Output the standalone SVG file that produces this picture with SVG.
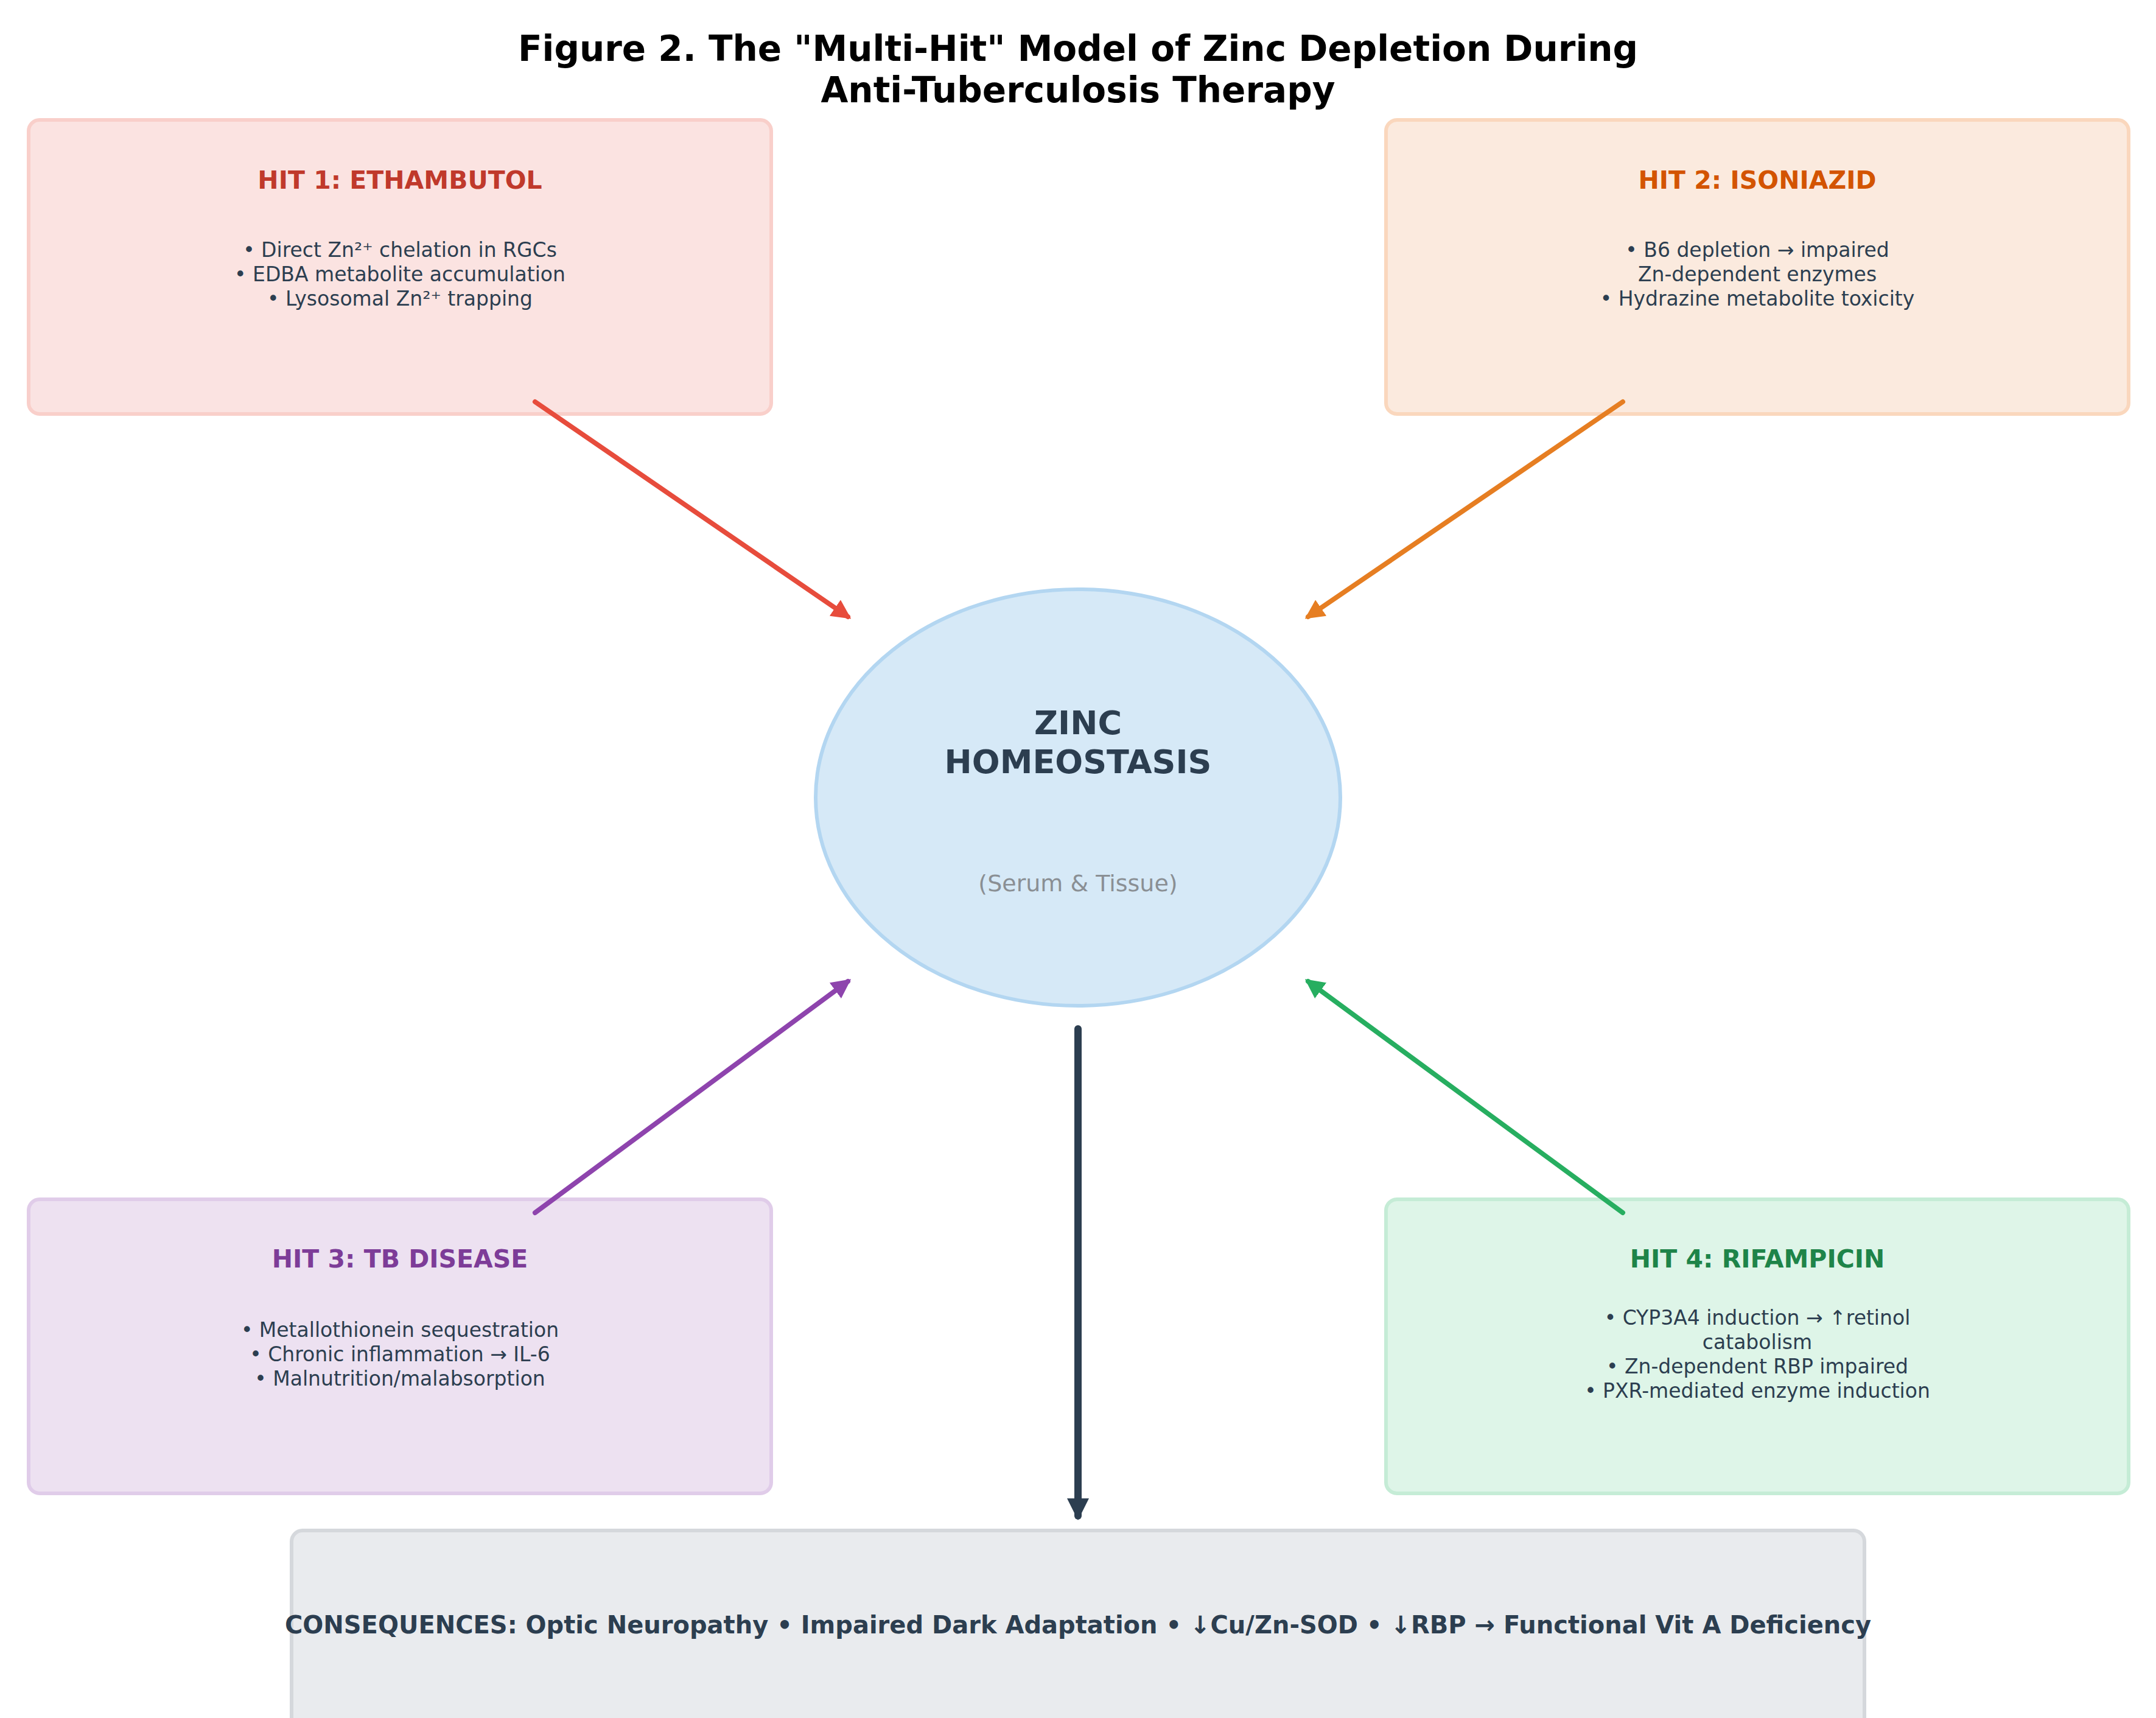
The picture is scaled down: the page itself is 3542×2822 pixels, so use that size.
<svg xmlns="http://www.w3.org/2000/svg" width="3542" height="2822" viewBox="0 0 3542 2822">
<style>
text{font-family:"DejaVu Sans",sans-serif;text-anchor:middle}
.t{font-size:58px;font-weight:bold;fill:#000}
.h{font-size:41px;font-weight:bold}
.b{font-size:33px;fill:#2c3e50}
.box{stroke-width:6}
</style>
<defs>
<marker id="mr" viewBox="0 0 10 10" refX="8" refY="5" markerWidth="4" markerHeight="4" orient="auto"><path d="M0,0L10,5L0,10z" fill="#e74c3c"/></marker>
<marker id="mo" viewBox="0 0 10 10" refX="8" refY="5" markerWidth="4" markerHeight="4" orient="auto"><path d="M0,0L10,5L0,10z" fill="#e67e22"/></marker>
<marker id="mp" viewBox="0 0 10 10" refX="8" refY="5" markerWidth="4" markerHeight="4" orient="auto"><path d="M0,0L10,5L0,10z" fill="#8e44ad"/></marker>
<marker id="mg" viewBox="0 0 10 10" refX="8" refY="5" markerWidth="4" markerHeight="4" orient="auto"><path d="M0,0L10,5L0,10z" fill="#27ae60"/></marker>
<marker id="md" viewBox="0 0 10 10" refX="8" refY="5" markerWidth="3" markerHeight="3" orient="auto"><path d="M0,0L10,5L0,10z" fill="#2c3e50"/></marker>
</defs>
<rect width="3542" height="2822" fill="#fff"/>
<text class="t" x="1771" y="100">Figure 2. The "Multi-Hit" Model of Zinc Depletion During</text>
<text class="t" x="1771" y="168">Anti-Tuberculosis Therapy</text>
<g id="hit1">
<rect class="box" x="47" y="197" width="1220" height="483" rx="18" fill="#fbe3e1" stroke="#f9cfca"/>
<text class="h" x="657" y="310" fill="#c0392b">HIT 1: ETHAMBUTOL</text>
<text class="b" x="657" y="422">• Direct Zn²⁺ chelation in RGCs</text>
<text class="b" x="657" y="462">• EDBA metabolite accumulation</text>
<text class="b" x="657" y="502">• Lysosomal Zn²⁺ trapping</text>
</g>
<g id="hit2">
<rect class="box" x="2277" y="197" width="1220" height="483" rx="18" fill="#fbeade" stroke="#fad7bd"/>
<text class="h" x="2887" y="310" fill="#d35400">HIT 2: ISONIAZID</text>
<text class="b" x="2887" y="422">• B6 depletion → impaired</text>
<text class="b" x="2887" y="462">Zn-dependent enzymes</text>
<text class="b" x="2887" y="502">• Hydrazine metabolite toxicity</text>
</g>
<g id="hit3">
<rect class="box" x="47" y="1970" width="1220" height="483" rx="18" fill="#ede1f1" stroke="#e0cce9"/>
<text class="h" x="657" y="2082" fill="#7d3c98">HIT 3: TB DISEASE</text>
<text class="b" x="657" y="2196">• Metallothionein sequestration</text>
<text class="b" x="657" y="2236">• Chronic inflammation → IL-6</text>
<text class="b" x="657" y="2276">• Malnutrition/malabsorption</text>
</g>
<g id="hit4">
<rect class="box" x="2277" y="1970" width="1220" height="483" rx="18" fill="#def5e8" stroke="#c5ecd6"/>
<text class="h" x="2887" y="2082" fill="#1e8449">HIT 4: RIFAMPICIN</text>
<text class="b" x="2887" y="2176">• CYP3A4 induction → ↑retinol</text>
<text class="b" x="2887" y="2216">catabolism</text>
<text class="b" x="2887" y="2256">• Zn-dependent RBP impaired</text>
<text class="b" x="2887" y="2296">• PXR-mediated enzyme induction</text>
</g>
<g id="zinc">
<ellipse cx="1771" cy="1310" rx="431" ry="342" fill="#d6e9f7" stroke="#b3d6f1" stroke-width="6"/>
<text x="1771" y="1206" font-size="54" font-weight="bold" fill="#2c3e50">ZINC</text>
<text x="1771" y="1270" font-size="54" font-weight="bold" fill="#2c3e50">HOMEOSTASIS</text>
<text x="1771" y="1464" font-size="38" fill="#8a8f94">(Serum &amp; Tissue)</text>
</g>
<g id="consequences">
<rect class="box" x="479" y="2514" width="2584" height="340" rx="18" fill="#e9ebee" stroke="#d5d8dc"/>
<text x="1771" y="2683" font-size="40" font-weight="bold" fill="#2c3e50">CONSEQUENCES: Optic Neuropathy  •  Impaired Dark Adaptation  •  ↓Cu/Zn-SOD  •  ↓RBP → Functional Vit A Deficiency</text>
</g>
<g id="connectors" fill="none" stroke-linecap="round">
<line x1="879" y1="660" x2="1393" y2="1013" stroke="#e74c3c" stroke-width="8" marker-end="url(#mr)"/>
<line x1="2666" y1="660" x2="2149" y2="1013" stroke="#e67e22" stroke-width="8" marker-end="url(#mo)"/>
<line x1="879" y1="1992" x2="1393" y2="1612" stroke="#8e44ad" stroke-width="8" marker-end="url(#mp)"/>
<line x1="2666" y1="1992" x2="2149" y2="1612" stroke="#27ae60" stroke-width="8" marker-end="url(#mg)"/>
<line x1="1771" y1="1690" x2="1771" y2="2490" stroke="#2c3e50" stroke-width="12" marker-end="url(#md)"/>
</g>
</svg>
